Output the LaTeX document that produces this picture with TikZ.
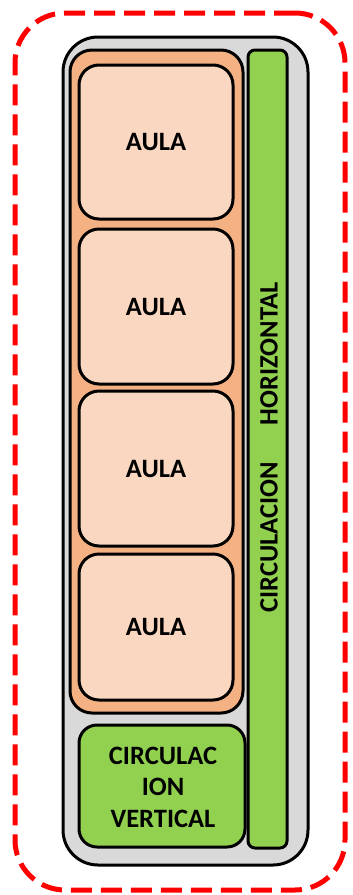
\documentclass[tikz,border=0pt]{standalone}
\usepackage{fontspec}
\setmainfont{Carlito}
\definecolor{grayfill}{HTML}{D9D9D9}
\definecolor{orangefill}{HTML}{F4B183}
\definecolor{aulafill}{HTML}{F9D7C0}
\definecolor{greenfill}{HTML}{92D050}
\definecolor{redline}{HTML}{FF0000}
\begin{document}
\begin{tikzpicture}[x=1pt,y=-1pt,
  box/.style={draw=black,line width=3pt,rounded corners=#1,inner sep=0pt,outer sep=0pt,anchor=center},
  lbl/.style={font=\fontsize{26.5}{32}\selectfont\bfseries,align=center,inner sep=0pt},
]
\useasboundingbox (0,0) rectangle (353,895);
\node[draw=redline,line width=5pt,dash pattern=on 21pt off 9pt,rounded corners=50pt,minimum width=330pt,minimum height=877pt,inner sep=0pt] (frame) at (180,451.5) {};
\node[box=35pt,fill=grayfill,minimum width=245pt,minimum height=828pt] (outer) at (185.5,451) {};
\node[box=22pt,fill=orangefill,minimum width=173pt,minimum height=663pt] (aulas) at (156.5,381.5) {};
\node[box=20pt,fill=aulafill,minimum width=154pt,minimum height=154pt] (a1) at (156,142) {};
\node[box=20pt,fill=aulafill,minimum width=154pt,minimum height=155pt] (a2) at (156,306.5) {};
\node[box=20pt,fill=aulafill,minimum width=154pt,minimum height=155pt] (a3) at (156,468.5) {};
\node[box=20pt,fill=aulafill,minimum width=154pt,minimum height=146pt] (a4) at (156,627) {};
\node[lbl] (t1) at (a1) {AULA};
\node[lbl] (t2) at (a2) {AULA};
\node[lbl] (t3) at (a3) {AULA};
\node[lbl] (t4) at (a4) {AULA};
\node[box=7pt,fill=greenfill,minimum width=39pt,minimum height=798pt] (hbar) at (267.5,449) {};
\node[lbl,rotate=90] (ht) at (269,447.5) {CIRCULACION\hspace{37pt}HORIZONTAL};
\node[box=18pt,fill=greenfill,minimum width=166pt,minimum height=122pt] (vbox) at (162,786) {};
\node[lbl,font=\fontsize{26.5}{31.5}\selectfont\bfseries] (vt) at (163,787) {CIRCULAC\\ION\\VERTICAL};
\end{tikzpicture}
\end{document}
